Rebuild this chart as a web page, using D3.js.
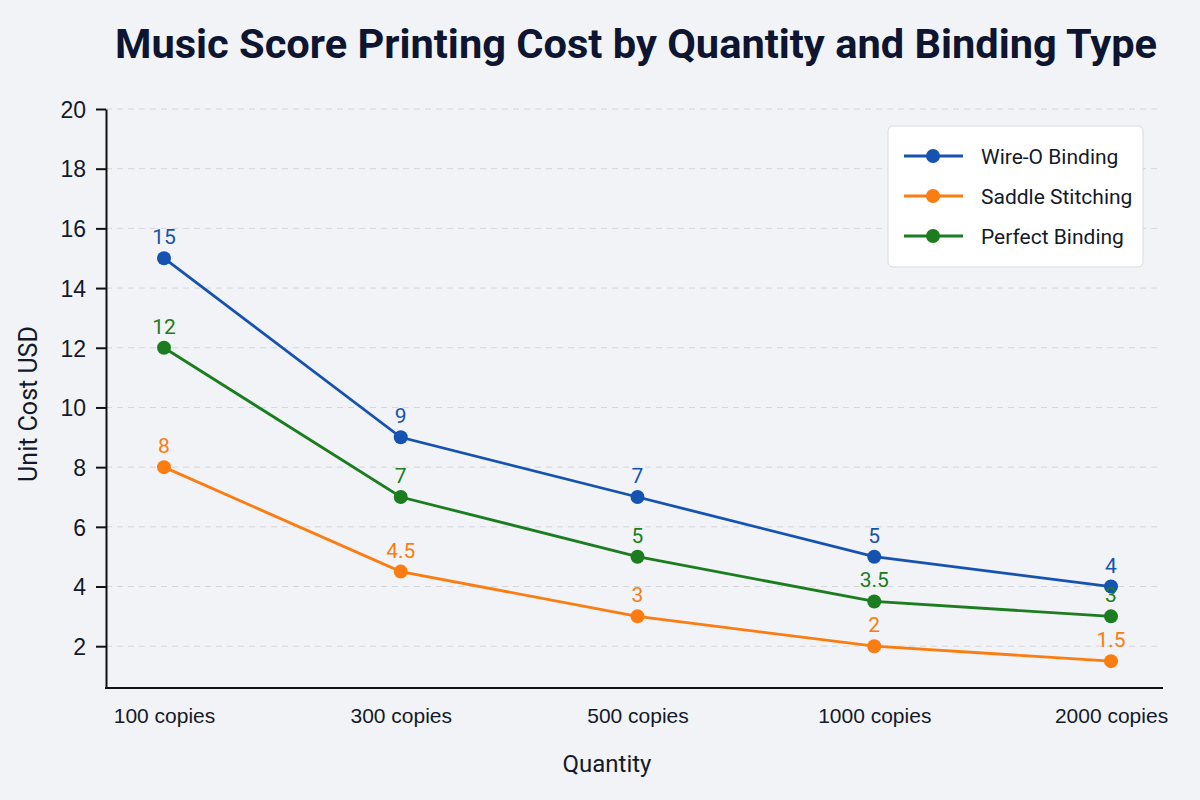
<!DOCTYPE html>
<html>
<head>
<meta charset="utf-8">
<script src="https://cdn.jsdelivr.net/npm/d3@7"></script>
<style>
  html, body { margin: 0; padding: 0; background: #f1f3f6; }
  svg { display: block; font-family: Roboto, "Noto Sans", sans-serif; }
</style>
</head>
<body>
<div id="chart"></div>
<script>
// ----------------------------------
// DATA
// ----------------------------------
const quantities = ['100 copies', '300 copies', '500 copies', '1000 copies', '2000 copies'];
const wireO = [15, 9, 7, 5, 4];
const saddle = [8, 4.5, 3, 2, 1.5];
const perfect = [12, 7, 5, 3.5, 3];
const yTicks = [2, 4, 6, 8, 10, 12, 14, 16, 18, 20];

const series = [
  { name: 'Wire-O Binding', values: wireO, color: '#1652b0' },
  { name: 'Saddle Stitching', values: saddle, color: '#fb7d12' },
  { name: 'Perfect Binding', values: perfect, color: '#1b7d1f' }
];

const width = 1200, height = 800;
const axisLeft = 106, axisRight = 1163, axisTop = 109, axisBottom = 688;

const svg = d3.select('#chart').append('svg')
  .attr('width', width)
  .attr('height', height);

svg.append('rect').attr('width', width).attr('height', height).attr('fill', '#f1f3f6');

// ----------------------------------
// SCALES
// ----------------------------------
const x = d3.scalePoint()
  .domain(quantities)
  .range([164, 1111]);

const y = d3.scaleLinear()
  .domain([0.6, 20])
  .range([axisBottom, axisTop]);

// gridlines
svg.append('g')
  .selectAll('line')
  .data(yTicks)
  .join('line')
  .attr('x1', axisLeft)
  .attr('x2', 1160)
  .attr('y1', d => y(d))
  .attr('y2', d => y(d))
  .attr('stroke', '#d3d6db')
  .attr('stroke-width', 1)
  .attr('stroke-dasharray', '6,5');

// y axis
const yAxis = svg.append('g')
  .attr('transform', `translate(${axisLeft},0)`)
  .call(d3.axisLeft(y).tickValues(yTicks).tickSize(10).tickPadding(10).tickSizeOuter(0));
yAxis.select('.domain').attr('stroke', '#111').attr('stroke-width', 2);
yAxis.selectAll('.tick line').attr('stroke', '#111').attr('stroke-width', 2);
yAxis.selectAll('.tick text')
  .attr('fill', '#141a2a')
  .style('font-size', '23px')
  .attr('dy', '0.36em');

// x axis
const xAxis = svg.append('g')
  .attr('transform', `translate(0,${axisBottom})`)
  .call(d3.axisBottom(x).tickSize(0).tickPadding(20));
xAxis.select('.domain').remove();
xAxis.selectAll('.tick text')
  .attr('fill', '#141a2a')
  .style('font-size', '21px');
svg.append('line')
  .attr('x1', axisLeft - 1).attr('x2', axisRight)
  .attr('y1', axisBottom).attr('y2', axisBottom)
  .attr('stroke', '#111').attr('stroke-width', 2);

// ----------------------------------
// LINES + MARKERS + LABELS
// ----------------------------------
const line = d3.line()
  .x((d, i) => x(quantities[i]))
  .y(d => y(d));

series.forEach(s => {
  const g = svg.append('g');
  g.append('path')
    .datum(s.values)
    .attr('d', line)
    .attr('fill', 'none')
    .attr('stroke', s.color)
    .attr('stroke-width', 2.8);
  g.selectAll('circle')
    .data(s.values)
    .join('circle')
    .attr('cx', (d, i) => x(quantities[i]))
    .attr('cy', d => y(d))
    .attr('r', 7)
    .attr('fill', s.color);
  g.selectAll('text')
    .data(s.values)
    .join('text')
    .attr('x', (d, i) => x(quantities[i]))
    .attr('y', d => y(d) - 14)
    .attr('text-anchor', 'middle')
    .attr('fill', s.color)
    .style('font-size', '21px')
    .text(d => d);
});

// ----------------------------------
// LEGEND
// ----------------------------------
const legend = svg.append('g').attr('transform', 'translate(888,126)');
legend.append('rect')
  .attr('width', 255).attr('height', 141)
  .attr('rx', 5)
  .attr('fill', '#ffffff')
  .attr('stroke', '#d9dbe0')
  .attr('stroke-width', 1);
series.forEach((s, i) => {
  const row = legend.append('g').attr('transform', `translate(0,${30 + i * 40})`);
  row.append('line')
    .attr('x1', 16).attr('x2', 75)
    .attr('stroke', s.color).attr('stroke-width', 2.8);
  row.append('circle').attr('cx', 45).attr('r', 7).attr('fill', s.color);
  row.append('text')
    .attr('x', 93).attr('dy', '0.36em')
    .attr('fill', '#141a2a')
    .style('font-size', '21px')
    .text(s.name);
});

// ----------------------------------
// TITLES
// ----------------------------------
svg.append('text')
  .attr('x', 115).attr('y', 58)
  .attr('textLength', 1042)
  .attr('lengthAdjust', 'spacingAndGlyphs')
  .attr('fill', '#0d1530')
  .style('font-size', '40px')
  .style('font-weight', 'bold')
  .text('Music Score Printing Cost by Quantity and Binding Type');

svg.append('text')
  .attr('x', 607).attr('y', 772)
  .attr('text-anchor', 'middle')
  .attr('fill', '#141a2a')
  .style('font-size', '24px')
  .text('Quantity');

svg.append('text')
  .attr('transform', 'translate(37,404) rotate(-90)')
  .attr('text-anchor', 'middle')
  .attr('fill', '#141a2a')
  .style('font-size', '25px')
  .text('Unit Cost USD');
</script>
</body>
</html>
